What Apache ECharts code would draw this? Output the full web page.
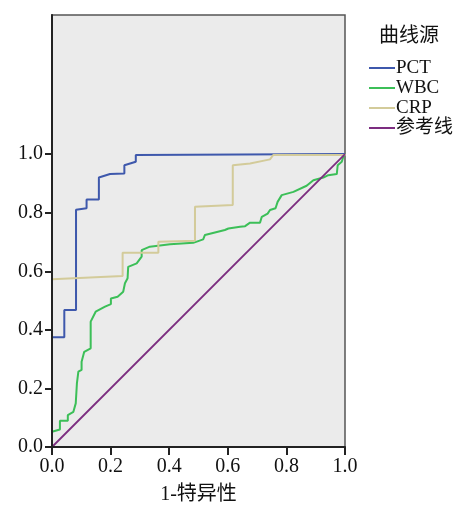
<!DOCTYPE html>
<html><head><meta charset="utf-8">
<script src="https://cdn.jsdelivr.net/npm/echarts@6/dist/echarts.min.js"></script>
<style>html,body{margin:0;padding:0;background:#fff}#c{width:460px;height:505px}</style>
</head><body><div id="c"></div>
<script>
var seriesNames = ['PCT', 'WBC', 'CRP', '参考线'];
var legendTitle = '曲线源';
var xAxisTitle = '1-特异性';
var xTicks = [0, 0.2, 0.4, 0.6, 0.8, 1.0];
var yTicks = [0, 0.2, 0.4, 0.6, 0.8, 1.0];

var pctPoints = [[0,0],[0,0.375],[0.042,0.375],[0.042,0.468],[0.082,0.468],[0.082,0.81],[0.118,0.815],[0.118,0.845],[0.16,0.845],[0.16,0.92],[0.198,0.932],[0.247,0.934],[0.247,0.962],[0.286,0.974],[0.286,0.997],[1,1]];
var wbcPoints = [[0,0],[0,0.052],[0.027,0.06],[0.027,0.09],[0.054,0.09],[0.054,0.109],[0.073,0.12],[0.081,0.149],[0.085,0.217],[0.09,0.257],[0.101,0.263],[0.101,0.291],[0.11,0.325],[0.11,0.331],[0.132,0.337],[0.132,0.428],[0.149,0.462],[0.181,0.479],[0.201,0.488],[0.201,0.507],[0.224,0.513],[0.243,0.53],[0.249,0.559],[0.258,0.576],[0.26,0.615],[0.289,0.627],[0.306,0.65],[0.306,0.672],[0.334,0.684],[0.403,0.692],[0.482,0.697],[0.516,0.709],[0.522,0.724],[0.59,0.741],[0.602,0.746],[0.642,0.752],[0.659,0.754],[0.676,0.766],[0.71,0.766],[0.716,0.786],[0.736,0.797],[0.744,0.809],[0.763,0.815],[0.77,0.837],[0.784,0.86],[0.824,0.871],[0.869,0.892],[0.892,0.911],[0.926,0.92],[0.943,0.928],[0.972,0.932],[0.975,0.962],[0.989,0.974],[0.994,0.99],[1,1]];
var crpPoints = [[0,0],[0,0.573],[0.241,0.584],[0.241,0.663],[0.363,0.663],[0.363,0.701],[0.488,0.704],[0.488,0.82],[0.617,0.826],[0.617,0.962],[0.676,0.968],[0.744,0.982],[0.755,0.997],[1,0.997],[1,1]];
var refPoints = [[0,0],[1,1]];

var FONT = "'Liberation Serif', 'Noto Sans CJK SC', serif";
var colors = ['#3E58AC', '#3CBF58', '#D3CB9A', '#7C2D80'];
var widths = [2, 2, 2, 1.8];
var allData = [pctPoints, wbcPoints, crpPoints, refPoints];

var chart = echarts.init(document.getElementById('c'));
chart.setOption({
  animation: false,
  title: {
    text: legendTitle, left: 374, top: 22,
    textStyle: { fontFamily: FONT, fontSize: 20, fontWeight: 'normal', color: '#111' }
  },
  legend: {
    orient: 'vertical', left: 364, top: 53, itemGap: 0,
    itemWidth: 26, itemHeight: 2, icon: 'rect',
    textStyle: { fontFamily: FONT, fontSize: 19, color: '#111', lineHeight: 20, padding: [0, 0, 0, -4] },
    data: seriesNames
  },
  grid: {
    left: 52, right: 115, top: 15, bottom: 58,
    outerBoundsMode: 'none', containLabel: false,
    show: true, backgroundColor: '#EBEBEB', borderColor: '#555', borderWidth: 1.5
  },
  xAxis: {
    type: 'value', min: 0, max: 1, interval: 0.2, z: 10,
    name: xAxisTitle, nameLocation: 'middle', nameGap: 38,
    nameTextStyle: { fontFamily: FONT, fontSize: 20, color: '#111' },
    axisLine: { show: true, lineStyle: { color: '#222', width: 2 } },
    axisTick: { show: true, length: 8, lineStyle: { color: '#222', width: 2 }, customValues: xTicks },
    axisLabel: { fontFamily: FONT, fontSize: 20, color: '#111', margin: 10, customValues: xTicks,
      formatter: function (v) { return v.toFixed(1); } },
    splitLine: { show: false }
  },
  yAxis: {
    type: 'value', min: 0, max: 1.475, z: 10,
    axisLine: { show: true, lineStyle: { color: '#222', width: 2 } },
    axisTick: { show: true, length: 7, lineStyle: { color: '#222', width: 2 }, customValues: yTicks },
    axisLabel: { fontFamily: FONT, fontSize: 20, color: '#111', margin: 9, customValues: yTicks,
      formatter: function (v) { return v.toFixed(1); } },
    splitLine: { show: false }
  },
  series: seriesNames.map(function (n, i) {
    return {
      name: n, type: 'line', data: allData[i], showSymbol: false, symbol: 'none',
      lineStyle: { color: colors[i], width: widths[i] }, itemStyle: { color: colors[i] },
      z: 2 + i
    };
  })
});
</script></body></html>
